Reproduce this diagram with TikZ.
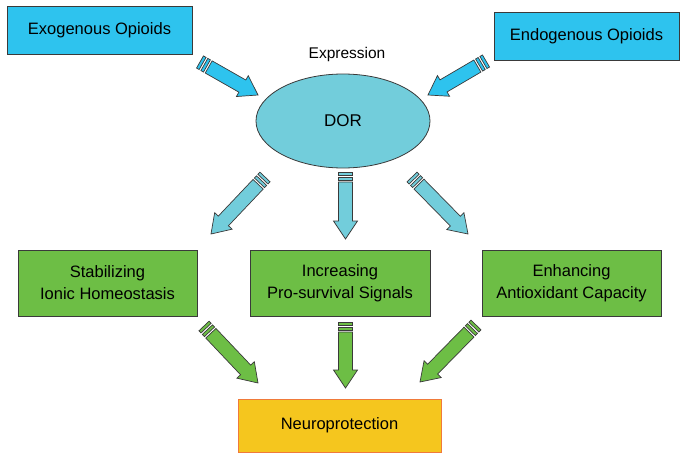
\documentclass[tikz,border=0pt]{standalone}
\usepackage{fontspec}
\setmainfont{Liberation Sans}
\usetikzlibrary{calc,shapes.geometric}
\definecolor{cyanbox}{HTML}{2EC3EE}
\definecolor{dorfill}{HTML}{72CDDB}
\definecolor{greenbox}{HTML}{6DBE45}
\definecolor{yellowbox}{HTML}{F5C61E}
\definecolor{orangeedge}{HTML}{F07A3A}
\definecolor{edgegray}{HTML}{3A3A3A}
\newcommand\sarr[3]{%
  \filldraw[fill=#3,draw=edgegray,line width=0.7pt,line join=miter]
    ($(#1)!10pt!(#2)!7pt!90:(#2)$) -- ($(#2)!18pt!(#1)!7pt!-90:(#1)$)
    -- ($(#2)!18pt!(#1)!12pt!-90:(#1)$) -- (#2)
    -- ($(#2)!18pt!(#1)!12pt!90:(#1)$) -- ($(#2)!18pt!(#1)!7pt!90:(#1)$)
    -- ($(#1)!10pt!(#2)!7pt!-90:(#2)$) -- cycle;
  \filldraw[fill=#3,draw=edgegray,line width=0.7pt]
    ($(#1)!0pt!(#2)!7pt!90:(#2)$) -- ($(#1)!3pt!(#2)!7pt!90:(#2)$)
    -- ($(#1)!3pt!(#2)!7pt!-90:(#2)$) -- ($(#1)!0pt!(#2)!7pt!-90:(#2)$) -- cycle;
  \filldraw[fill=#3,draw=edgegray,line width=0.7pt]
    ($(#1)!5pt!(#2)!7pt!90:(#2)$) -- ($(#1)!8pt!(#2)!7pt!90:(#2)$)
    -- ($(#1)!8pt!(#2)!7pt!-90:(#2)$) -- ($(#1)!5pt!(#2)!7pt!-90:(#2)$) -- cycle;
}
\tikzset{
  box/.style={draw=edgegray,line width=0.8pt,minimum height=48pt,minimum width=185pt,
    inner sep=0pt,font=\fontsize{16.5}{20}\selectfont,align=center},
  topbox/.style={box,fill=cyanbox},
  greenb/.style={box,fill=greenbox,minimum height=66pt,minimum width=179pt,
    font=\fontsize{16.5}{22}\selectfont},
  neurob/.style={box,fill=yellowbox,draw=orangeedge,minimum height=53pt,minimum width=203pt},
}
\begin{document}
\begin{tikzpicture}[x=1pt,y=-1pt]
\useasboundingbox (0,0) rectangle (686,460);
\node[topbox] (exo) at (99.5,30) {Exogenous Opioids};
\node[topbox] (endo) at (586.5,36) {Endogenous Opioids};
\node[ellipse,draw=edgegray,line width=0.8pt,fill=dorfill,minimum width=174pt,minimum height=94pt,
  inner sep=0pt,font=\fontsize{17}{20}\selectfont] (dor) at (343,121) {DOR};
\node[font=\fontsize{15.5}{18}\selectfont] (expr) at (347,54) {Expression};
\node[greenb] (stab) at (107.5,283) {Stabilizing\\Ionic Homeostasis};
\node[greenb,minimum width=180pt] (inc) at (340,283) {Increasing\\Pro-survival Signals};
\node[greenb] (enh) at (571.5,283) {Enhancing\\Antioxidant Capacity};
\node[neurob] (neuro) at (339.5,425.5) {Neuroprotection};
% arrow coordinates
\coordinate (a1t) at (200,62); \coordinate (a1h) at (258,95);
\coordinate (a2t) at (486,61); \coordinate (a2h) at (428,95);
\coordinate (b1t) at (265,177); \coordinate (b1h) at (211,234);
\coordinate (b2t) at (345.5,172); \coordinate (b2h) at (345.5,239);
\coordinate (b3t) at (412,177); \coordinate (b3h) at (468,234);
\coordinate (c1t) at (204,326); \coordinate (c1h) at (258,383);
\coordinate (c2t) at (345.5,322); \coordinate (c2h) at (345.5,388);
\coordinate (c3t) at (476,325); \coordinate (c3h) at (420,382);
\sarr{a1t}{a1h}{cyanbox}
\sarr{a2t}{a2h}{cyanbox}
\sarr{b1t}{b1h}{dorfill}
\sarr{b2t}{b2h}{dorfill}
\sarr{b3t}{b3h}{dorfill}
\sarr{c1t}{c1h}{greenbox}
\sarr{c2t}{c2h}{greenbox}
\sarr{c3t}{c3h}{greenbox}
\end{tikzpicture}
\end{document}
